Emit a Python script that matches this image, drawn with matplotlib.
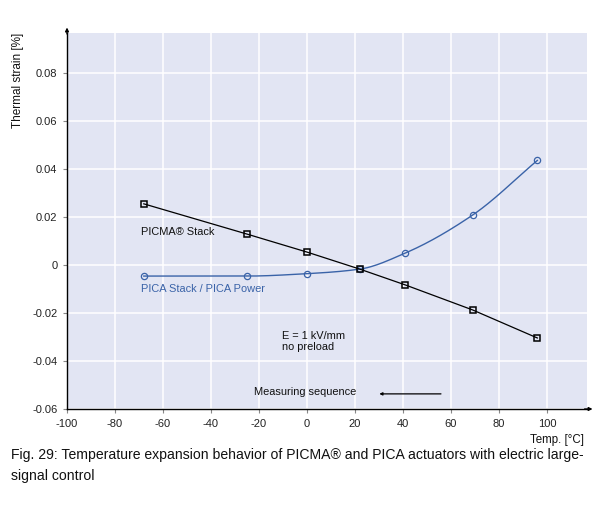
import matplotlib.pyplot as plt
import numpy as np

# temperatures [deg C] and thermal strain [%]
picma_temp = [-68, -25, 0, 22, 41, 69, 96]
picma_strain = [0.0255, 0.0129, 0.0054, -0.0017, -0.0083, -0.0187, -0.0304]
pica_temp = [-68, -25, 0, 22, 41, 69, 96]
pica_strain = [-0.0046, -0.0046, -0.0036, -0.0017, 0.0050, 0.0208, 0.0436]

x_ticks = [-100, -80, -60, -40, -20, 0, 20, 40, 60, 80, 100]
y_ticks = [-0.06, -0.04, -0.02, 0, 0.02, 0.04, 0.06, 0.08]
y_tick_labels = ['-0.06', '-0.04', '-0.02', '0', '0.02', '0.04', '0.06', '0.08']

BLUE = '#3a63a8'
BG = '#e2e5f3'


def smooth(x, y, n=200):
    """monotone cubic (Fritsch-Carlson) through the points, only for drawing the curve"""
    x = np.asarray(x, float)
    y = np.asarray(y, float)
    h = np.diff(x)
    d = np.diff(y) / h
    m = np.zeros(len(x))
    m[0], m[-1] = d[0], d[-1]
    for i in range(1, len(x) - 1):
        if d[i - 1] * d[i] > 0:
            w1 = 2 * h[i] + h[i - 1]
            w2 = h[i] + 2 * h[i - 1]
            m[i] = (w1 + w2) / (w1 / d[i - 1] + w2 / d[i])
    xs = np.linspace(x[0], x[-1], n)
    j = np.clip(np.searchsorted(x, xs) - 1, 0, len(x) - 2)
    t = (xs - x[j]) / h[j]
    h00 = 2 * t ** 3 - 3 * t ** 2 + 1
    h10 = t ** 3 - 2 * t ** 2 + t
    h01 = -2 * t ** 3 + 3 * t ** 2
    h11 = t ** 3 - t ** 2
    ys = h00 * y[j] + h10 * h[j] * m[j] + h01 * y[j + 1] + h11 * h[j] * m[j + 1]
    return xs, ys


plt.rcParams['font.family'] = ['Liberation Sans', 'DejaVu Sans']
plt.rcParams['axes.unicode_minus'] = False

fig = plt.figure(figsize=(6.13, 5.16), dpi=100)
ax = fig.add_axes([67 / 613, 1 - 409 / 516, 520 / 613, 376 / 516])
ax.set_facecolor(BG)
ax.set_xlim(-100, 116.7)
ax.set_ylim(-0.06, 0.0967)
ax.set_xticks(x_ticks)
ax.set_yticks(y_ticks)
ax.set_yticklabels(y_tick_labels)
ax.grid(color='white', linewidth=1.1)
ax.set_axisbelow(True)
for s in ['top', 'right']:
    ax.spines[s].set_visible(False)
for s in ['left', 'bottom']:
    ax.spines[s].set_linewidth(1.0)
ax.tick_params(direction='out', length=3, width=0.8, color='#888888',
               labelsize=8, labelcolor='#222222', pad=4)

# axis arrows
ax.annotate('', xy=(0, 1.022), xytext=(0, 0.99), xycoords='axes fraction',
            arrowprops=dict(arrowstyle='-|>', color='black', lw=1, mutation_scale=5),
            annotation_clip=False)
ax.annotate('', xy=(1.016, 0), xytext=(0.99, 0), xycoords='axes fraction',
            arrowprops=dict(arrowstyle='-|>', color='black', lw=1, mutation_scale=5),
            annotation_clip=False)

ax.plot(picma_temp, picma_strain, color='black', lw=0.9, marker='s', markersize=5,
        markerfacecolor='none', markeredgecolor='black', markeredgewidth=1.1, zorder=4)
sx, sy = smooth(pica_temp, pica_strain)
ax.plot(sx, sy, color=BLUE, lw=1.0, zorder=3)
ax.plot(pica_temp, pica_strain, ls='none', marker='o', markersize=4.5,
        markerfacecolor='none', markeredgecolor=BLUE, markeredgewidth=0.9, zorder=3)

fs = 7.9
ax.text(-69, 0.0138, 'PICMA® Stack', fontsize=fs, va='center', color='#111111')
ax.text(-69, -0.0100, 'PICA Stack / PICA Power', fontsize=fs, va='center', color=BLUE)
ax.text(-10.5, -0.0296, 'E = 1 kV/mm', fontsize=fs, va='center', color='#111111')
ax.text(-10.5, -0.0340, 'no preload', fontsize=fs, va='center', color='#111111')
ax.text(-22, -0.0530, 'Measuring sequence', fontsize=fs, va='center', color='#111111')
ax.annotate('', xy=(29, -0.0537), xytext=(57, -0.0537),
            arrowprops=dict(arrowstyle='-|>', color='black', lw=0.9, mutation_scale=4))

fig.text(18 / 613, 1 - 33 / 516, 'Thermal strain [%]', rotation=90, fontsize=8.5,
         ha='center', va='top', color='#111111')
fig.text(584 / 613, 1 - 440 / 516, 'Temp. [°C]', fontsize=8.3, ha='right', va='center',
         color='#111111')
fig.text(11 / 613, 1 - 448 / 516,
         'Fig. 29: Temperature expansion behavior of PICMA® and PICA actuators with electric large-\nsignal control',
         fontsize=10.1, ha='left', va='top', linespacing=1.6, color='#111111')

fig.savefig('out.png', dpi=100)
